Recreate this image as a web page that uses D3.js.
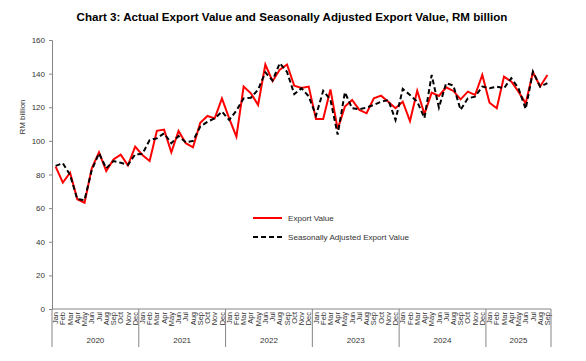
<!DOCTYPE html>
<html>
<head>
<meta charset="utf-8">
<script src="https://cdn.jsdelivr.net/npm/d3@7"></script>
<style>
  html, body { margin: 0; padding: 0; background: #fff; }
  svg { display: block; font-family: "Liberation Sans", Arial, sans-serif; }
</style>
</head>
<body>
<svg id="chart" width="586" height="361"></svg>
<script>
const years = ["2020", "2021", "2022", "2023", "2024", "2025"];
const monthNames = ["Jan","Feb","Mar","Apr","May","Jun","Jul","Aug","Sep","Oct","Nov","Dec"];
const monthsInYear = [12, 12, 12, 12, 12, 9];
const yTicks = [0, 20, 40, 60, 80, 100, 120, 140, 160];

const exportValue = [
  84.7, 75.2, 81.1, 65.3, 63.2, 83.7, 93.2, 82.1, 89.0, 91.8, 85.5, 96.6,
  91.6, 88.0, 106.0, 106.7, 93.2, 105.9, 98.6, 96.2, 110.8, 114.8, 113.4, 125.3,
  113.4, 102.5, 132.3, 128.3, 121.4, 145.4, 135.5, 142.4, 145.4, 132.8, 131.5, 132.3,
  113.0, 113.0, 130.6, 107.0, 120.4, 124.3, 118.4, 116.4, 125.3, 126.9, 123.3, 119.4,
  123.3, 111.8, 129.8, 116.0, 128.7, 126.7, 131.9, 129.7, 124.7, 129.3, 127.3, 139.2,
  122.7, 119.4, 138.2, 135.3, 129.3, 122.3, 140.8, 132.3, 139.2
];
const seasonallyAdjusted = [
  85.1, 86.7, 79.7, 65.3, 64.8, 82.7, 92.6, 83.7, 88.0, 87.0, 85.7, 92.0,
  92.2, 100.5, 101.5, 104.5, 98.6, 102.9, 99.2, 100.0, 108.5, 111.4, 113.4, 117.4,
  112.4, 118.0, 125.3, 125.7, 130.5, 140.7, 135.9, 146.2, 141.0, 127.8, 131.3, 126.5,
  115.0, 129.8, 124.5, 103.7, 128.9, 119.4, 118.8, 119.8, 121.4, 123.3, 124.3, 112.4,
  130.9, 127.3, 123.3, 113.6, 139.2, 119.8, 134.3, 132.9, 118.4, 125.3, 126.3, 132.3,
  131.3, 132.3, 131.3, 137.3, 131.3, 119.0, 141.2, 132.3, 134.3
];

const months = [];
years.forEach((yr, yi) => {
  for (let m = 0; m < monthsInYear[yi]; m++) months.push({ key: yr + "-" + m, label: monthNames[m], year: yr });
});

const svg = d3.select("#chart");
const plotLeft = 52, plotRight = 551, plotTop = 40, plotBottom = 309;

const x = d3.scaleBand().domain(months.map(d => d.key)).range([plotLeft, plotRight]).padding(0);
const y = d3.scaleLinear().domain([0, 160]).range([plotBottom, plotTop]);
const cx = k => x(k) + x.bandwidth() / 2;

svg.append("text")
  .attr("x", 292).attr("y", 21)
  .attr("text-anchor", "middle")
  .attr("font-weight", "bold")
  .attr("font-size", 11.6)
  .attr("fill", "#000")
  .text("Chart 3: Actual Export Value and Seasonally Adjusted Export Value, RM billion");

const yAxis = d3.axisLeft(y).tickValues(yTicks).tickSize(3).tickPadding(4).tickFormat(d3.format("d"));
const gy = svg.append("g").attr("transform", `translate(${plotLeft},0)`).call(yAxis);
gy.select(".domain").attr("stroke", "#868686");
gy.selectAll(".tick line").attr("stroke", "#868686");
gy.selectAll(".tick text").attr("font-size", 8).attr("fill", "#333").attr("font-family", "Liberation Sans, Arial, sans-serif");

svg.append("text")
  .attr("transform", "translate(25,117) rotate(-90)")
  .attr("text-anchor", "middle")
  .attr("font-size", 8)
  .attr("fill", "#333")
  .text("RM billion");

svg.append("line").attr("x1", plotLeft).attr("x2", plotRight).attr("y1", plotBottom).attr("y2", plotBottom).attr("stroke", "#868686");

svg.append("g").selectAll("text").data(months).join("text")
  .attr("transform", d => `translate(${cx(d.key) + 2.6},312) rotate(-90)`)
  .attr("text-anchor", "end")
  .attr("font-size", 7.5)
  .attr("fill", "#333")
  .text(d => d.label);

let idx = 0;
const yearSpans = years.map((yr, yi) => {
  const s = idx; idx += monthsInYear[yi];
  return { year: yr, x0: x(months[s].key), x1: x(months[idx - 1].key) + x.bandwidth() };
});
const dividers = [yearSpans[0].x0].concat(yearSpans.map(d => d.x1));
svg.append("g").selectAll("line").data(dividers).join("line")
  .attr("x1", d => d).attr("x2", d => d).attr("y1", plotBottom).attr("y2", 347)
  .attr("stroke", "#868686");
svg.append("g").selectAll("text").data(yearSpans).join("text")
  .attr("x", d => (d.x0 + d.x1) / 2).attr("y", 343)
  .attr("text-anchor", "middle")
  .attr("font-size", 8)
  .attr("fill", "#333")
  .text(d => d.year);

const line = d3.line().x((d, i) => cx(months[i].key)).y(d => y(d));
svg.append("path").datum(exportValue)
  .attr("d", line).attr("fill", "none").attr("stroke", "#ff0000").attr("stroke-width", 2);
svg.append("path").datum(seasonallyAdjusted)
  .attr("d", line).attr("fill", "none").attr("stroke", "#000").attr("stroke-width", 2).attr("stroke-dasharray", "5,3");

const legend = svg.append("g");
legend.append("line").attr("x1", 253).attr("x2", 282).attr("y1", 218).attr("y2", 218).attr("stroke", "#ff0000").attr("stroke-width", 2);
legend.append("text").attr("x", 288).attr("y", 221).attr("font-size", 8.1).attr("fill", "#333").text("Export Value");
legend.append("line").attr("x1", 253).attr("x2", 282).attr("y1", 237).attr("y2", 237).attr("stroke", "#000").attr("stroke-width", 2).attr("stroke-dasharray", "5,3");
legend.append("text").attr("x", 288).attr("y", 240).attr("font-size", 8.1).attr("fill", "#333").text("Seasonally Adjusted Export Value");
</script>
</body>
</html>
